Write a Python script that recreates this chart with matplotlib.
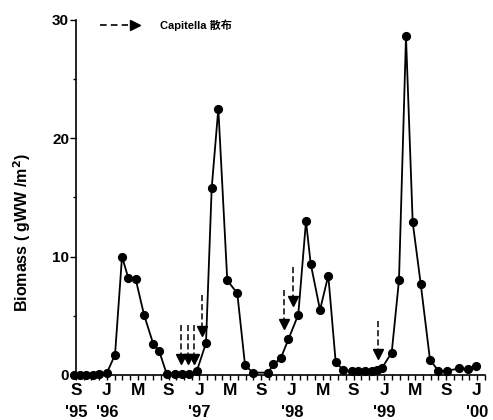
import matplotlib
matplotlib.use("Agg")
import matplotlib.pyplot as plt
from matplotlib.lines import Line2D
from matplotlib.ticker import MultipleLocator

plt.rcParams['font.family'] = ['Liberation Sans', 'Noto Sans CJK JP', 'DejaVu Sans']

# months since Sep 1995
months = [-0.2, 0.52, 1.30, 2.17, 3.02, 3.98, 5.06, 5.97, 6.78, 7.74, 8.82, 10.03, 10.77,
          11.76, 12.84, 13.71, 14.70, 15.65, 16.86, 17.60, 18.46, 19.62, 20.92, 21.92,
          22.92, 24.94, 25.59, 26.55, 27.54, 28.83, 29.83, 30.44, 31.65, 32.72, 33.68,
          34.67, 35.76, 36.61, 37.48, 38.35, 39.00, 39.65, 40.95, 41.89, 42.80, 43.67,
          44.71, 45.91, 46.99, 48.08, 49.68, 50.88, 51.84]
biomass = [0, 0, 0, 0, 0.05, 0.15, 1.7, 10.0, 8.2, 8.1, 5.1, 2.6, 2.05,
           0.1, 0.1, 0.1, 0.1, 0.3, 2.7, 15.8, 22.5, 8.0, 6.9, 0.85,
           0.2, 0.2, 0.9, 1.4, 3.0, 5.1, 13.0, 9.4, 5.5, 8.4, 1.1,
           0.4, 0.3, 0.3, 0.3, 0.3, 0.4, 0.55, 1.9, 8.0, 28.6, 12.9,
           7.7, 1.3, 0.35, 0.35, 0.55, 0.5, 0.8]

# Capitella scattering arrows
arrow_months = [13.58, 14.49, 15.34, 16.30, 27.0, 28.2, 39.2]
arrow_tip = [1.0, 1.0, 1.0, 3.4, 4.0, 5.9, 1.45]
arrow_top = [4.2, 4.2, 4.2, 6.8, 7.2, 9.1, 4.6]

month_ticks = [0, 4, 8, 12, 16, 20, 24, 28, 32, 36, 40, 44, 48, 52]
month_labels = ['S', 'J', 'M', 'S', 'J', 'M', 'S', 'J', 'M', 'S', 'J', 'M', 'S', 'J']
year_pos = [0, 4, 16, 28, 40, 52]
year_labels = ["'95", "'96", "'97", "'98", "'99", "'00"]

W, H = 493, 420
fig = plt.figure(figsize=(W / 100, H / 100), dpi=100)
x0, x1 = 76, 76 + 7.71 * 53
y0, y1 = 375, 19.9
ax = fig.add_axes([x0 / W, 1 - y0 / H, (x1 - x0) / W, (y0 - y1) / H])

ax.plot(months, biomass, color='black', lw=1.3, marker='o', ms=5.6,
        markerfacecolor='black', markeredgecolor='black', clip_on=False, zorder=3)

for m, tip, top in zip(arrow_months, arrow_tip, arrow_top):
    ax.plot([m, m], [top, tip + 0.6], color='black', lw=1.1, ls=(0, (4, 2)), zorder=2)
    ax.plot([m], [tip + 0.35], marker='v', ms=7, color='black', zorder=2)

ax.set_xlim(0, 53)
ax.set_ylim(0, 30)
ax.spines['top'].set_visible(False)
ax.spines['right'].set_visible(False)
ax.spines['left'].set_linewidth(1.2)
ax.spines['bottom'].set_linewidth(1.2)

ax.set_yticks([0, 10, 20, 30])
ax.set_yticklabels(['0', '10', '20', '30'], fontsize=11, fontweight='bold')
ax.yaxis.set_minor_locator(MultipleLocator(5))
ax.tick_params(axis='y', which='major', length=4, width=1, pad=1)
ax.tick_params(axis='y', which='minor', length=2.5, width=1)

ax.set_xticks(month_ticks)
ax.set_xticklabels(month_labels, fontsize=12.5, fontweight='bold')
ax.xaxis.set_minor_locator(MultipleLocator(1))
ax.tick_params(axis='x', which='both', length=3.5, width=1, pad=2)

for p, lab in zip(year_pos, year_labels):
    ax.text(p, -0.105, lab, transform=ax.get_xaxis_transform(), ha='center', va='center',
            fontsize=12, fontweight='bold')

fig.text(22 / W, 1 - 233 / H, r'Biomass ( gWW /m$^\mathbf{2}$)', rotation=90,
         ha='center', va='center', fontsize=11.5, fontweight='bold')

# legend
ly = 1 - 25 / H
fig.add_artist(Line2D([100 / W, 128 / W], [ly, ly], color='black', lw=1.2, ls=(0, (4, 2.5))))
fig.add_artist(Line2D([135 / W], [ly], marker='>', ms=7, color='black'))
fig.text(160 / W, ly, 'Capitella 散布', fontsize=8, fontweight='bold', ha='left', va='center',
         family=['Liberation Sans', 'Noto Sans CJK JP'])

fig.savefig('out.png', dpi=100)
